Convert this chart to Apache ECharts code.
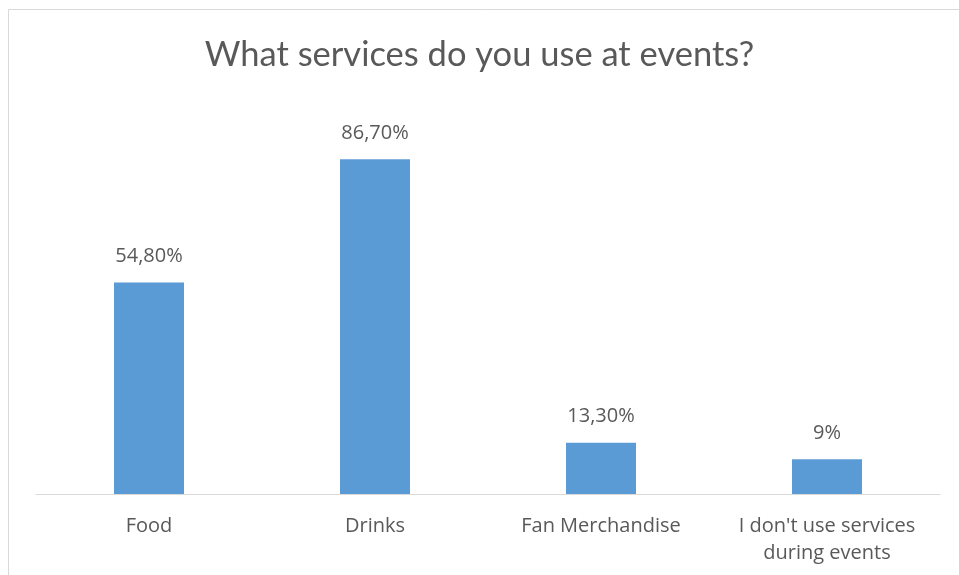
<!DOCTYPE html>
<html>
<head>
<meta charset="utf-8">
<script src="https://cdn.jsdelivr.net/npm/echarts@6/dist/echarts.min.js"></script>
<style>
  html, body { margin: 0; padding: 0; background: #fff; }
  #chart { width: 959px; height: 575px; }
</style>
</head>
<body>
<div id="chart"></div>
<script>
// Survey answers: share of respondents using each service
const categories = ['Food', 'Drinks', 'Fan Merchandise', "I don't use services\nduring events"];
const shares = [54.8, 86.7, 13.3, 9];
const shareLabels = ['54,80%', '86,70%', '13,30%', '9%'];

const textColor = '#595959';
const titleFont = 'Lato, "Open Sans", sans-serif';
const bodyFont = '"Open Sans", Lato, sans-serif';

const chart = echarts.init(document.getElementById('chart'));
chart.setOption({
  backgroundColor: '#fff',
  animation: false,
  title: {
    text: 'What services do you use at events?',
    left: 'center',
    top: 32,
    textStyle: { fontFamily: titleFont, fontSize: 34.5, fontWeight: 'normal', color: textColor }
  },
  graphic: [{
    type: 'rect',
    silent: true,
    shape: { x: 8.5, y: 9.5, width: 1000, height: 1000 },
    style: { fill: 'none', stroke: '#d9d9d9', lineWidth: 1 }
  }],
  grid: { left: 36, right: 19, top: 108, bottom: 81, containLabel: false },
  xAxis: {
    type: 'category',
    data: categories,
    axisLine: { show: true, lineStyle: { color: '#d9d9d9', width: 1 } },
    axisTick: { show: false },
    axisLabel: {
      interval: 0,
      margin: 19,
      fontFamily: bodyFont,
      fontSize: 20,
      lineHeight: 27,
      color: textColor
    }
  },
  yAxis: {
    type: 'value',
    min: 0,
    max: 100,
    show: false,
    splitLine: { show: false }
  },
  series: [{
    type: 'bar',
    data: shares,
    barWidth: 70,
    itemStyle: { color: '#5B9BD5' },
    label: {
      show: true,
      position: 'top',
      distance: 16,
      fontFamily: bodyFont,
      fontSize: 20,
      color: textColor,
      formatter: p => shareLabels[p.dataIndex]
    }
  }]
});
</script>
</body>
</html>
